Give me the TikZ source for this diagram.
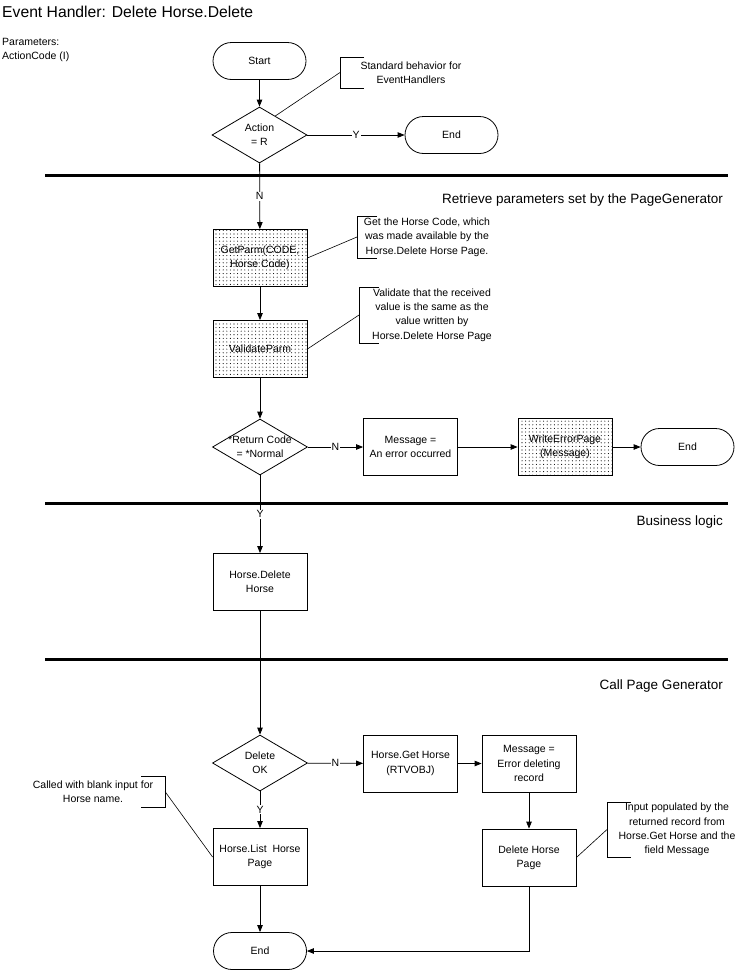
\documentclass[tikz,border=0pt]{standalone}
\usepackage{fontspec}
\setmainfont{Liberation Sans}
\usetikzlibrary{shapes.geometric,shapes.misc,arrows.meta,patterns.meta,calc}
\begin{document}
\begin{tikzpicture}[x=1pt,y=-1pt,
  font=\fontsize{10.5}{14.3}\selectfont,
  every node/.style={inner sep=1pt},
  terminal/.style={draw,rounded rectangle,minimum width=95pt,minimum height=37pt,line width=0.8pt},
  proc/.style={draw,minimum width=94pt,minimum height=57pt,align=center,line width=0.8pt},
  dotproc/.style={proc,pattern={Dots[distance=3.6pt,radius=0.55pt]}},
  dia/.style={draw,diamond,minimum width=95pt,minimum height=56pt,inner sep=0pt,line width=0.8pt},
  lbl/.style={fill=white,inner sep=1pt},
  arr/.style={line width=0.8pt,-{Triangle[length=7pt,width=5.5pt]}},
  conn/.style={line width=0.6pt},
  sepline/.style={line width=3pt},
  sec/.style={anchor=east,font=\fontsize{13.5}{16}\selectfont},
  note/.style={align=center}
]
\useasboundingbox (0,0) rectangle (741,972);

% title and parameters
\node[anchor=west,font=\fontsize{15.7}{19}\selectfont] (title) at (1,12) {Event Handler: Delete Horse.Delete};
\node[anchor=north west,align=left] (params) at (1,37) {Parameters:\\ActionCode (I)};

% section separators
\coordinate (s1a) at (45,175); \coordinate (s1b) at (728,175);
\coordinate (s2a) at (45,503); \coordinate (s2b) at (728,503);
\coordinate (s3a) at (45,659); \coordinate (s3b) at (728,659);
\draw[sepline] (s1a) -- (s1b);
\draw[sepline] (s2a) -- (s2b);
\draw[sepline] (s3a) -- (s3b);
\node[sec] (sec1) at (724,200) {Retrieve parameters set by the PageGenerator};
\node[sec] (sec2) at (724,522) {Business logic};
\node[sec] (sec3) at (724,686) {Call Page Generator};

% nodes
\node[terminal] (start) at (259.5,61) {Start};
\node[dia,label={[align=center]center:Action\\= R}] (act) at (259.5,135) {};
\node[terminal] (end1) at (451.5,135) {End};

\node[dotproc] (getp) at (260,258) {GetParm(CODE,\\Horse Code)};
\node[dotproc] (val) at (260,349) {ValidateParm};
\node[dia,label={[align=center]center:*Return Code\\= *Normal}] (rc) at (260,447) {};
\node[proc] (msg) at (410.5,447) {Message =\\An error occurred};
\node[dotproc] (wep) at (565,447) {WriteErrorPage\\(Message)};
\node[terminal] (end2) at (687.5,447) {End};

\node[proc] (hd) at (260,582) {Horse.Delete\\Horse};

\node[dia,label={[align=center]center:Delete\\OK}] (dok) at (260,763) {};
\node[proc] (gh) at (410.5,763.5) {Horse.Get Horse\\(RTVOBJ)};
\node[proc] (msg2) at (529,763.5) {Message =\\Error deleting\\record};
\node[proc] (lp) at (260,857) {Horse.List\ \ Horse\\Page};
\node[proc] (dhp) at (529,857.5) {Delete Horse\\Page};
\node[terminal] (end3) at (260,951) {End};

% connectors
\draw[arr] (start) -- (act);
\draw[arr] (act) -- node[lbl]{Y} (end1);
\draw[arr] (act) -- node[lbl]{N} (getp);
\draw[arr] (getp) -- (val);
\draw[arr] (val) -- (rc);
\draw[arr] (rc) -- node[lbl]{N} (msg);
\draw[arr] (msg) -- (wep);
\draw[arr] (wep) -- (end2);
\draw[arr] (rc) -- node[lbl]{Y} (hd);
\draw[arr] (hd) -- (dok);
\draw[arr] (dok) -- node[lbl]{N} (gh);
\draw[arr] (gh) -- (msg2);
\draw[arr] (msg2) -- (dhp);
\draw[arr] (dok) -- node[lbl]{Y} (lp);
\draw[arr] (lp) -- (end3);
\draw[arr] (dhp) |- (end3);

% annotations
\node[note] (n1) at (411,72.5) {Standard behavior for\\EventHandlers};
\draw[conn] (364,57) -- (340,57) -- (340,88) -- (364,88);
\coordinate (b1) at (340,72.5);
\draw[conn] (b1) -- ($(act.north)!0.33!(act.east)$);

\node[note] (n2) at (427,237) {Get the Horse Code, which\\was made available by the\\Horse.Delete Horse Page.};
\draw[conn] (377,216) -- (357,216) -- (357,258) -- (377,258);
\coordinate (b2) at (357,237);
\draw[conn] (b2) -- (getp.east);

\node[note] (n3) at (432,315) {Validate that the received\\value is the same as the\\value written by\\Horse.Delete Horse Page};
\draw[conn] (379,287) -- (359,287) -- (359,343) -- (379,343);
\coordinate (b3) at (359,315);
\draw[conn] (b3) -- (val.east);

\node[note] (n4) at (93,791.5) {Called with blank input for\\Horse name.};
\draw[conn] (141,776) -- (165,776) -- (165,807) -- (141,807);
\coordinate (b4) at (165,791.5);
\draw[conn] (b4) -- (lp.west);

\node[note] (n5) at (677,829.5) {Input populated by the\\returned record from\\Horse.Get Horse and the\\field Message};
\draw[conn] (631,802) -- (607,802) -- (607,857) -- (631,857);
\coordinate (b5) at (607,829.5);
\draw[conn] (b5) -- (dhp.east);
\end{tikzpicture}
\end{document}
